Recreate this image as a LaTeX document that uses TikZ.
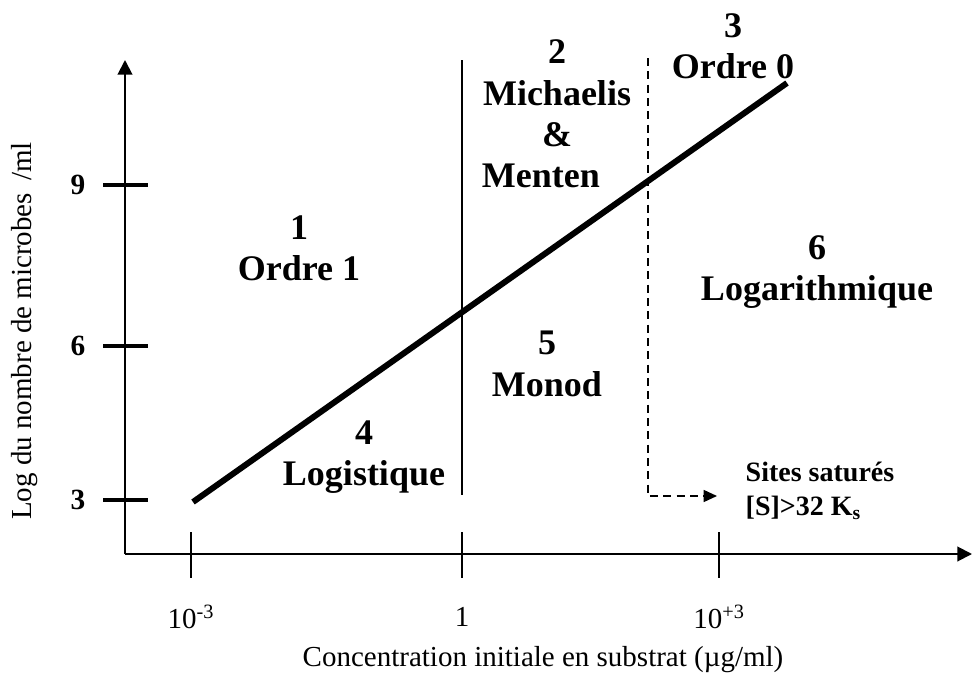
\documentclass[tikz,border=0pt]{standalone}
\usepackage{fontspec}
\setmainfont{Liberation Serif}
\usepackage{tikz}
\usetikzlibrary{arrows.meta}
\definecolor{ink}{RGB}{0,0,0}
\tikzset{
  axisline/.style={draw=ink, line width=1.5pt},
  zonelabel/.style={font=\fontsize{27}{31}\selectfont\bfseries, text=ink, align=center},
  ticknum/.style={font=\fontsize{22}{26}\selectfont\bfseries, text=ink},
  ticklabel/.style={font=\fontsize{21.75}{26}\selectfont, text=ink},
}

\begin{document}
\begin{tikzpicture}[x=0.75pt, y=-0.75pt]
    \useasboundingbox (0,0) rectangle (972,678);
    % axes
    \coordinate (origin) at (125,554);
    \coordinate (ytop) at (125,60);
    \coordinate (xend) at (972,554);
    \draw[axisline, -{Triangle[length=11pt,width=11pt]}] (origin) -- (ytop);
    \draw[axisline, -{Triangle[length=11pt,width=11pt]}] (origin) -- (xend);
    \foreach \y/\lab in {185/9, 346/6, 500/3} {
      \draw[ink, line width=2.6pt] (103,\y) -- (148,\y);
      \node[ticknum, anchor=east] (y\lab) at (90,\y) {\lab};
    }
    \foreach \x/\nm/\lab in {191/a/{10\textsuperscript{-3}}, 462/b/1, 719/c/{10\textsuperscript{+3}}} {
      \draw[ink, line width=1.5pt] (\x,532) -- (\x,578);
      \node[ticklabel] (x\nm) at (\x,617) {\lab};
    }
    \node[ticklabel, rotate=90] (ytitle) at (25,331) {Log du nombre de microbes \,/ml};
    \node[ticklabel] (xtitle) at (543,660) {Concentration initiale en substrat (µg/ml)};

    % regime boundaries
    \coordinate (vtop) at (462,60);
    \coordinate (vbot) at (462,495);
    \draw[ink, line width=1pt] (vtop) -- (vbot);
    \coordinate (dtop) at (648,58);
    \coordinate (dbend) at (648,496);
    \coordinate (dtip) at (717,496);
    \draw[ink, line width=1.1pt, dash pattern=on 6pt off 4pt,
          -{Triangle[length=10pt,width=9pt]}] (dtop) -- (dbend) -- (dtip);

    % growth line
    \coordinate (lstart) at (193,502);
    \coordinate (lend) at (787,83);
    \draw[ink, line width=4.5pt] (lstart) -- (lend);

    % zones
    \node[zonelabel] (zone1) at (299,248) {1\\Ordre 1};
    \node[zonelabel] (zone2) at (557,114) {2\\Michaelis\\\&\\Menten\hspace*{0.9em}};
    \node[zonelabel] (zone3) at (733,46) {3\\Ordre 0};
    \node[zonelabel] (zone4) at (364,457) {4\\Logistique};
    \node[zonelabel] (zone5) at (547,364) {5\\Monod};
    \node[zonelabel] (zone6) at (817,272) {6\\Logarithmique};
    \node[font=\fontsize{21}{25}\selectfont\bfseries, text=ink, align=left, anchor=west]
      (sites) at (741,491) {Sites saturés\\{[S]>32 K\textsubscript{s}}};
\end{tikzpicture}
\end{document}
